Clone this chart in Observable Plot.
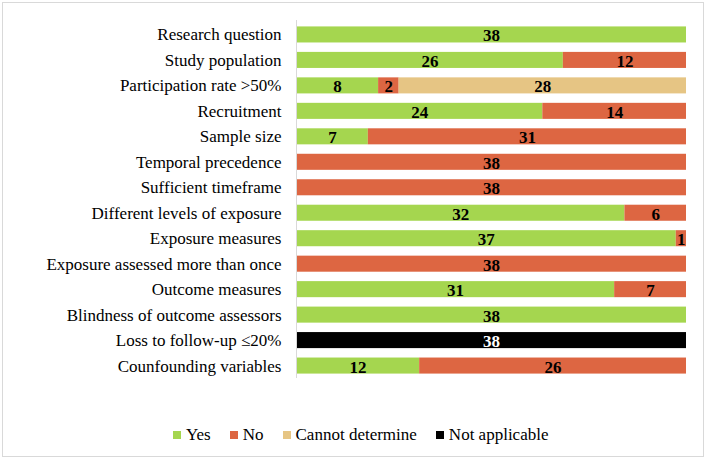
<!DOCTYPE html>
<html>
<head>
<meta charset="utf-8">
<script src="https://cdn.jsdelivr.net/npm/d3@7"></script>
<script src="https://cdn.jsdelivr.net/npm/@observablehq/plot@0.6"></script>
<style>
  body { margin: 0; background: #fff; }
  #wrap { position: relative; width: 708px; height: 462px; overflow: hidden; background: #fff; }
  #frame { position: absolute; left: 2px; top: 2px; width: 702px; height: 455px; border: 1px solid #d9d9d9; box-sizing: border-box; pointer-events: none; }
  #chart { position: absolute; left: 0; top: 0; }
  #legend { position: absolute; left: 173px; top: 424px; font-family: "Liberation Serif", "Times New Roman", serif; font-size: 17px; line-height: 22px; color: #000; display: flex; gap: 19px; align-items: center; white-space: nowrap; }
  #legend .item { display: flex; align-items: center; gap: 5px; }
  #legend .sw { width: 8px; height: 8px; display: inline-block; }
</style>
</head>
<body>
<div id="wrap">
  <div id="chart"></div>
  <div id="legend"></div>
  <div id="frame"></div>
</div>
<script>
const items = [
  "Research question",
  "Study population",
  "Participation rate >50%",
  "Recruitment",
  "Sample size",
  "Temporal precedence",
  "Sufficient timeframe",
  "Different levels of exposure",
  "Exposure measures",
  "Exposure assessed more than once",
  "Outcome measures",
  "Blindness of outcome assessors",
  "Loss to follow-up \u226420%",
  "Counfounding variables"
];
const responses = ["Yes", "No", "Cannot determine", "Not applicable"];
const colors = ["#a5d64f", "#dd6642", "#e6c584", "#000000"];

const yesValues = [38, 26, 8, 24, 7, 0, 0, 32, 37, 0, 31, 38, 0, 12];
const noValues = [0, 12, 2, 14, 31, 38, 38, 6, 1, 38, 7, 0, 0, 26];
const cannotValues = [0, 0, 28, 0, 0, 0, 0, 0, 0, 0, 0, 0, 0, 0];
const naValues = [0, 0, 0, 0, 0, 0, 0, 0, 0, 0, 0, 0, 38, 0];

const series = [yesValues, noValues, cannotValues, naValues];
const data = [];
items.forEach((item, i) => {
  responses.forEach((r, j) => {
    const v = series[j][i];
    if (v > 0) data.push({item, response: r, value: v});
  });
});

const font = '"Liberation Serif", "Times New Roman", serif';

const chart = Plot.plot({
  width: 708,
  height: 400,
  marginLeft: 296,
  marginRight: 22,
  marginTop: 17,
  marginBottom: 17,
  style: {fontFamily: font, fontSize: "17px", color: "#000", background: "transparent"},
  x: {domain: [0, 38], axis: null},
  y: {domain: items, padding: 0.37, round: false, label: null},
  color: {domain: responses, range: colors},
  marks: [
    Plot.barX(data, Plot.stackX({x: "value", y: "item", fill: "response", order: responses})),
    Plot.text(data, Plot.stackX({
      x: "value", y: "item", z: "response", order: responses,
      text: d => String(d.value),
      fill: d => d.response === "Not applicable" ? "white" : "black",
      fontWeight: "bold", fontSize: 17, dy: 1
    })),
    Plot.ruleX([0], {stroke: "#d9d9d9", strokeWidth: 1, insetTop: 3, insetBottom: 5}),
    Plot.axisY({tickSize: 0, tickPadding: 15, label: null, fontSize: 17})
  ]
});
document.getElementById("chart").appendChild(chart);

const legend = document.getElementById("legend");
responses.forEach((r, j) => {
  const it = document.createElement("span");
  it.className = "item";
  const sw = document.createElement("span");
  sw.className = "sw";
  sw.style.background = colors[j];
  const t = document.createElement("span");
  t.textContent = r;
  it.appendChild(sw);
  it.appendChild(t);
  legend.appendChild(it);
});
</script>
</body>
</html>
